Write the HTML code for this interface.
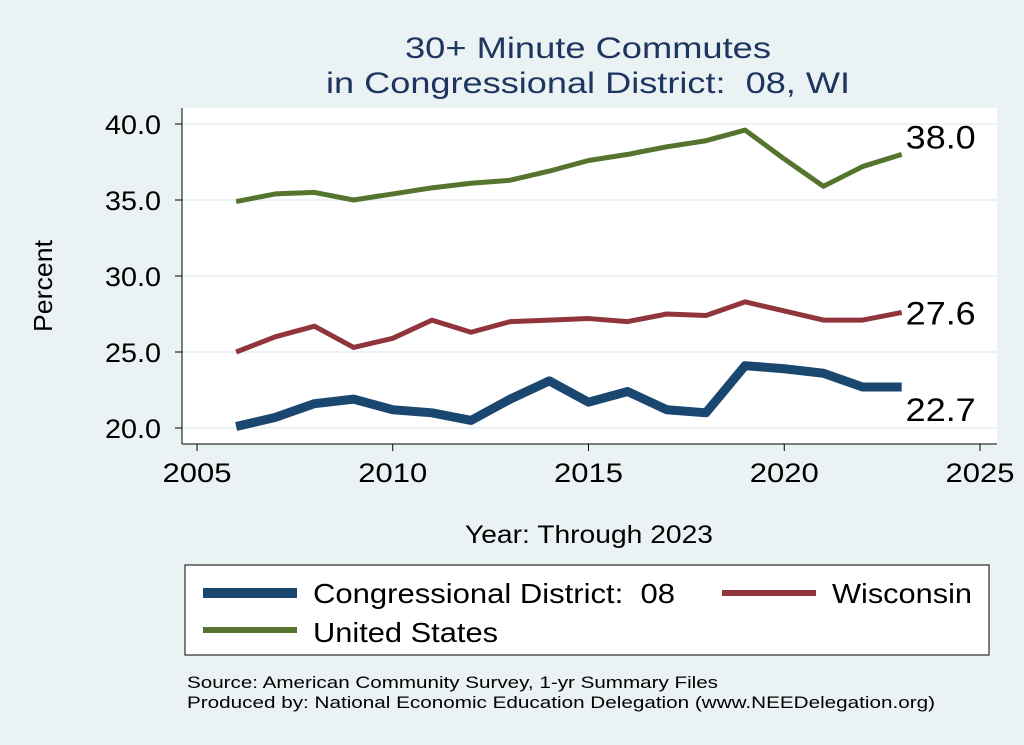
<!DOCTYPE html>
<html><head><meta charset="utf-8"><style>
body{margin:0;background:#eaf2f3;}
svg{display:block;font-family:"Liberation Sans",sans-serif;}
</style></head><body>
<svg width="1024" height="745">
<rect width="1024" height="745" fill="#eaf2f3"/>
<text x="588" y="58" text-anchor="middle" font-size="30" fill="#1e3560" textLength="366" lengthAdjust="spacingAndGlyphs">30+ Minute Commutes</text>
<text x="588" y="93" text-anchor="middle" font-size="30" fill="#1e3560" textLength="524" lengthAdjust="spacingAndGlyphs" xml:space="preserve">in Congressional District:  08, WI</text>
<rect x="182" y="108" width="815" height="336" fill="#fff"/>
<g id="grid"></g><g id="axes"></g><g id="series"></g>
<text x="52" y="286" text-anchor="middle" font-size="26" textLength="92" lengthAdjust="spacingAndGlyphs" transform="rotate(-90 52 286)">Percent</text>
<text x="589" y="543" text-anchor="middle" font-size="25" textLength="248" lengthAdjust="spacingAndGlyphs">Year: Through 2023</text>
<rect x="185" y="565" width="804" height="90" fill="#fff" stroke="#000" stroke-width="1"/>
<line x1="203" y1="593" x2="297" y2="593" stroke="#1a476f" stroke-width="10"/>
<text x="313" y="603" font-size="28" textLength="362" lengthAdjust="spacingAndGlyphs" xml:space="preserve">Congressional District:  08</text>
<line x1="722" y1="593" x2="816" y2="593" stroke="#90353b" stroke-width="6"/>
<text x="832" y="603" font-size="28" textLength="140" lengthAdjust="spacingAndGlyphs">Wisconsin</text>
<line x1="203" y1="630" x2="297" y2="630" stroke="#55752f" stroke-width="6"/>
<text x="313" y="642" font-size="28" textLength="185" lengthAdjust="spacingAndGlyphs">United States</text>
<text x="187" y="688" font-size="17" textLength="531" lengthAdjust="spacingAndGlyphs">Source: American Community Survey, 1-yr Summary Files</text>
<text x="187" y="708" font-size="17" textLength="748" lengthAdjust="spacingAndGlyphs">Produced by: National Economic Education Delegation (www.NEEDelegation.org)</text>
</svg>
<script>
const years=[2006,2007,2008,2009,2010,2011,2012,2013,2014,2015,2016,2017,2018,2019,2020,2021,2022,2023];
const usVals=[34.9,35.4,35.5,35.0,35.4,35.8,36.1,36.3,36.9,37.6,38.0,38.5,38.9,39.6,37.7,35.9,37.2,38.0];
const wiVals=[25.0,26.0,26.7,25.3,25.9,27.1,26.3,27.0,27.1,27.2,27.0,27.5,27.4,28.3,27.7,27.1,27.1,27.6];
const cdVals=[20.1,20.7,21.6,21.9,21.2,21.0,20.5,21.9,23.1,21.7,22.4,21.2,21.0,24.1,23.9,23.6,22.7,22.7];
const yTicks=[20,25,30,35,40];
const xTicks=[2005,2010,2015,2020,2025];
const NS="http://www.w3.org/2000/svg";
const X=v=>197+(v-2005)*39.15;
const Y=v=>428-(v-20)*15.2;
function mk(t,a,p){const e=document.createElementNS(NS,t);for(const k in a)e.setAttribute(k,a[k]);p.appendChild(e);return e;}
const grid=document.getElementById('grid'),axes=document.getElementById('axes'),ser=document.getElementById('series');
yTicks.forEach(v=>{
 const g=mk('line',{x1:182,x2:997,y1:Y(v),y2:Y(v),stroke:'#eaf2f3','stroke-width':2},grid);
 
 
 const t=mk('line',{x1:175,x2:182,y1:Y(v),y2:Y(v),stroke:'#000'},axes);
 
 
 const l=mk('text',{x:161,y:Y(v)+10,'text-anchor':'end','font-size':27,textLength:56,lengthAdjust:'spacingAndGlyphs'},axes);l.textContent=v.toFixed(1);
 
 
});
xTicks.forEach(v=>{
 const t=mk('line',{x1:X(v),x2:X(v),y1:444,y2:451,stroke:'#000'},axes);
 
 
 const l=mk('text',{x:X(v),y:482,'text-anchor':'middle','font-size':27,textLength:69,lengthAdjust:'spacingAndGlyphs'},axes);l.textContent=v;
 
 
});
const ya=mk('line',{x1:182,x2:182,y1:108,y2:444,stroke:'#000'},axes);


const xa=mk('line',{x1:182,x2:997,y1:444,y2:444,stroke:'#000'},axes);


function line(vals,color,w,name,ly){
 const p=mk('polyline',{points:vals.map((v,i)=>X(years[i])+','+Y(v)).join(' '),fill:'none',stroke:color,'stroke-width':w,'stroke-linejoin':'round'},ser);
 
 
 const last=vals[vals.length-1];
 const t=mk('text',{x:X(years[years.length-1])+4,y:Y(last)+ly,'font-size':32,textLength:70,lengthAdjust:'spacingAndGlyphs'},ser);t.textContent=last.toFixed(1);
 
 
}
line(usVals,'#55752f',5,'series-us',-6);
line(wiVals,'#90353b',5,'series-wisconsin',12);
line(cdVals,'#1a476f',9,'series-district',34);
</script>
</body></html>
